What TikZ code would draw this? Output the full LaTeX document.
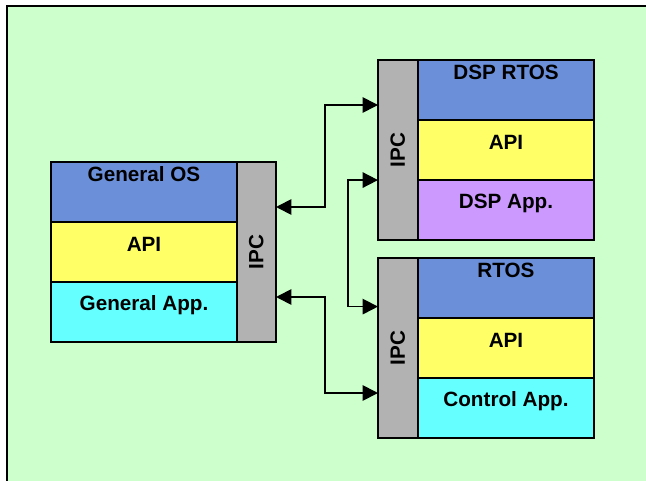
\documentclass[tikz,border=0pt]{standalone}
\usepackage{fontspec}
\setmainfont{Liberation Sans}
\usepackage{tikz}
\usetikzlibrary{arrows.meta}
\usetikzlibrary{positioning}
\usetikzlibrary{calc}
\definecolor{bggreen}{HTML}{CCFFCC}
\definecolor{osblue}{RGB}{107,143,217}
\definecolor{apiyellow}{HTML}{FFFF66}
\definecolor{appcyan}{HTML}{66FFFF}
\definecolor{dspviolet}{HTML}{CC99FF}
\definecolor{ipcgray}{HTML}{B2B2B2}

\tikzset{
  cell/.style={draw, line width=1.5pt, inner sep=0pt, outer sep=0pt, minimum height=45pt},
  ipcbar/.style={draw, line width=1.5pt, fill=ipcgray, inner sep=0pt, outer sep=0pt, minimum height=135pt},
  txt/.style={inner sep=0pt, text height=0.72em, text depth=0pt, font=\fontsize{15.5pt}{18pt}\selectfont\bfseries},
  link/.style={line width=1.3pt, {Triangle[length=11.5pt,width=11.5pt]}-{Triangle[length=11.5pt,width=11.5pt]}}
}

\begin{document}
\begin{tikzpicture}[x=0.75pt,y=-0.75pt]

      \useasboundingbox (0,0) rectangle (646,481);
      \clip (0,0) rectangle (646,481);
      \fill[white] (0,0) rectangle (646,481);

      % frame, open to the right and below
      \fill[bggreen] (7,6.5) rectangle (646,481);
      \draw[line width=1.5pt] (7,490) -- (7,6.5) -- (650,6.5);

      % general OS stack
      \node[cell, fill=osblue, minimum width=139.5pt, anchor=north west] (gos) at (51,162) {};
      \node[cell, fill=apiyellow, minimum width=139.5pt, below=0pt of gos] (gapi) {};
      \node[cell, fill=appcyan, minimum width=139.5pt, below=0pt of gapi] (gapp) {};
      \node[ipcbar, minimum width=29.25pt, anchor=north west] (gipc) at (gos.north east) {};
      \node[txt] (gost) at ($(gos.north)+(0,15)$) {General OS};
      \node[txt] (gapit) at ($(gapi.north)+(0,25)$) {API};
      \node[txt] (gappt) at ($(gapp.north)+(0,24)$) {General App.};
      \node[txt, rotate=90] (gipct) at ($(gipc)+(2,0)$) {IPC};

      % DSP stack
      \node[ipcbar, minimum width=30pt, anchor=north west] (dipc) at (378,60) {};
      \node[cell, fill=osblue, minimum width=132pt, anchor=north west] (dos) at (dipc.north east) {};
      \node[cell, fill=apiyellow, minimum width=132pt, below=0pt of dos] (dapi) {};
      \node[cell, fill=dspviolet, minimum width=132pt, below=0pt of dapi] (dapp) {};
      \node[txt] (dost) at ($(dos.north)+(0,15)$) {DSP RTOS};
      \node[txt] (dapit) at ($(dapi.north)+(0,25)$) {API};
      \node[txt] (dappt) at ($(dapp.north)+(0,24)$) {DSP App.};
      \node[txt, rotate=90] (dipct) at ($(dipc)+(2,0)$) {IPC};

      % RTOS stack
      \node[ipcbar, minimum width=30pt, anchor=north west] (ripc) at (378,258) {};
      \node[cell, fill=osblue, minimum width=132pt, anchor=north west] (ros) at (ripc.north east) {};
      \node[cell, fill=apiyellow, minimum width=132pt, below=0pt of ros] (rapi) {};
      \node[cell, fill=appcyan, minimum width=132pt, below=0pt of rapi] (rapp) {};
      \node[txt] (rost) at ($(ros.north)+(0,15)$) {RTOS};
      \node[txt] (rapit) at ($(rapi.north)+(0,25)$) {API};
      \node[txt] (rappt) at ($(rapp.north)+(0,24)$) {Control App.};
      \node[txt, rotate=90] (ripct) at ($(ripc)+(2,0)$) {IPC};

      % ports on the IPC bars
      \coordinate (g1) at ($(gipc.north east)!.25!(gipc.south east)$);
      \coordinate (g2) at ($(gipc.north east)!.75!(gipc.south east)$);
      \coordinate (d1) at ($(dipc.north west)!.25!(dipc.south west)$);
      \coordinate (d2) at ($(dipc.north west)!.667!(dipc.south west)$);
      \coordinate (r1) at ($(ripc.north west)!.27!(ripc.south west)$);
      \coordinate (r2) at ($(ripc.north west)!.75!(ripc.south west)$);

      % IPC links
      \draw[link] (g1) -- ++(49,0) |- (d1);
      \draw[link] (g2) -- ++(49,0) |- (r2);
      \draw[link] (d2) -- ++(-30,0) |- (r1);

    \end{tikzpicture}
\end{document}
